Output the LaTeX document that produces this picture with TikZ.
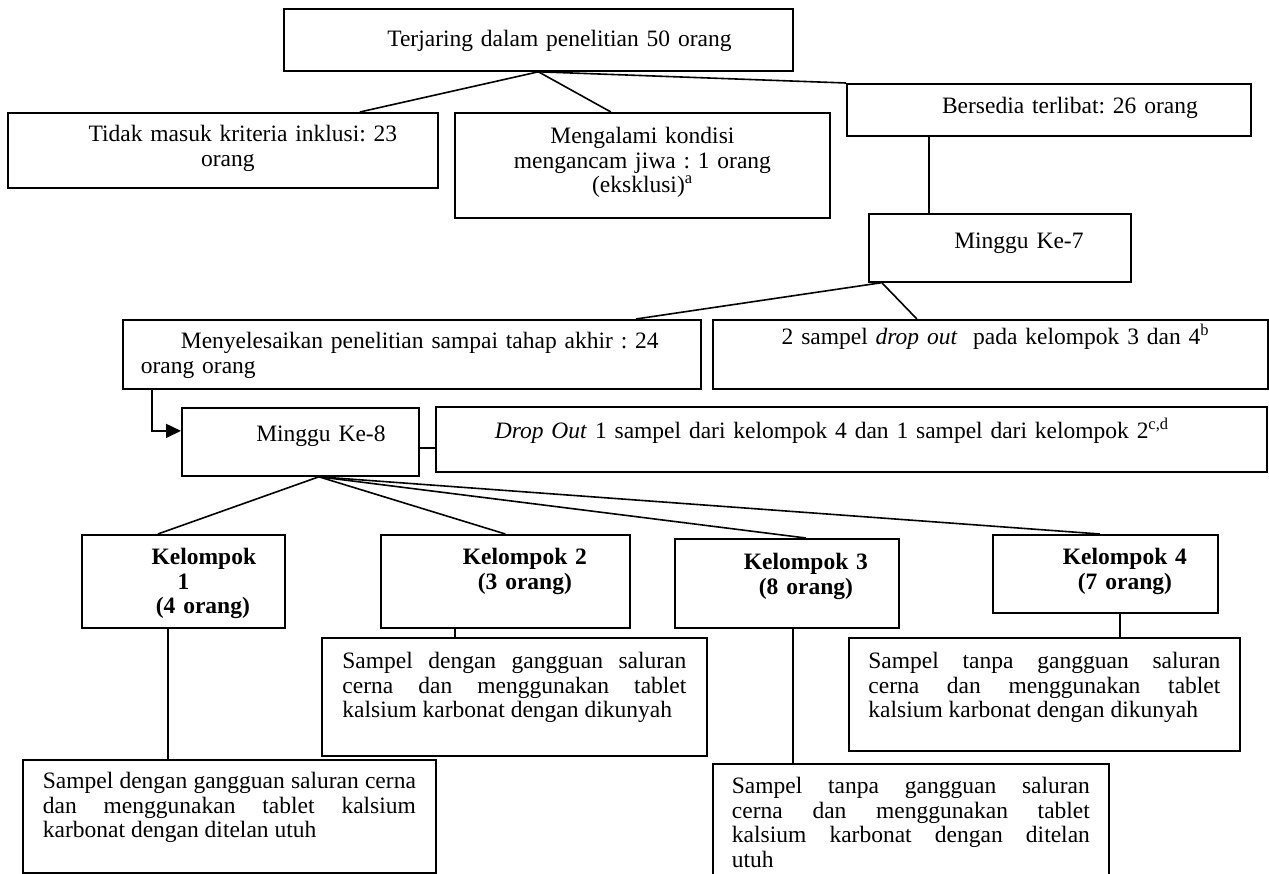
\documentclass[tikz,border=0pt]{standalone}
\usepackage{fontspec}
\setmainfont{Liberation Serif}
\usetikzlibrary{arrows.meta}
\tolerance=9999
\hbadness=10000
\frenchspacing

\begin{document}
\begin{tikzpicture}[x=1pt, y=-1pt, line width=1.6pt,
    box/.style = {draw, line width=1.8pt, inner sep=0pt, anchor=north west, align=center,
                  font=\fontsize{23.5}{24.5}\selectfont},
    grp/.style = {box, font=\fontsize{23.5}{24.5}\selectfont\bfseries},
    sample/.style = {box, align=justify}]
    \useasboundingbox (0,0) rectangle (1269,874);
    \clip (0,0) rectangle (1269,874);

    \node[box, text width=509pt, text height=38pt, text depth=24pt] (top) at (283,8) {\hspace*{42pt}Terjaring dalam penelitian 50 orang};
    \node[box, text width=430pt, text height=29pt, text depth=46pt] (tidak) at (7,112) {\hspace*{40pt}Tidak masuk kriteria inklusi: 23\\\hspace*{10pt}orang};
    \node[box, text width=375pt, text height=31pt, text depth=74pt] (meng) at (454,112) {Mengalami kondisi\\mengancam jiwa : 1 orang\\(eksklusi)\textsuperscript{a}};
    \node[box, text width=404pt, text height=30pt, text depth=22pt] (bers) at (846,83) {\hspace*{42pt}Bersedia terlibat: 26 orang};
    \node[box, text width=262pt, text height=35pt, text depth=33pt] (m7) at (868,213) {\hspace*{38pt}Minggu Ke-7};
    \node[box, align=left, text width=542pt, inner xsep=18pt, text height=29pt, text depth=40pt] (sel) at (122,319) {\hspace*{40pt}Menyelesaikan penelitian sampai tahap akhir : 24\\orang orang};
    \node[box, text width=555pt, text height=25pt, text depth=44pt] (drop7) at (712,319) {\hspace*{10pt}2 sampel \textit{drop out}\ \ pada kelompok 3 dan 4\textsuperscript{b}};
    \node[box, text width=237pt, text height=34pt, text depth=34pt] (m8) at (181,407) {\hspace*{41pt}Minggu Ke-8};
    \node[box, align=left, text width=831pt, text height=32pt, text depth=33pt] (dout) at (435,406) {\hspace*{59pt}\textit{Drop Out} 1 sampel dari kelompok 4 dan 1 sampel dari kelompok 2\textsuperscript{c,d}};

    \node[grp, text width=203pt, text height=30pt, text depth=63pt] (k1) at (81,534) {\hspace*{41pt}Kelompok\\1\\\hspace*{39pt}(4 orang)};
    \node[grp, text width=249pt, text height=30pt, text depth=63pt] (k2) at (380,534) {\hspace*{39pt}Kelompok 2\\\hspace*{39pt}(3 orang)};
    \node[grp, text width=224pt, text height=31pt, text depth=58pt] (k3) at (674,538) {\hspace*{38pt}Kelompok 3\\\hspace*{38pt}(8 orang)};
    \node[grp, text width=225pt, text height=30pt, text depth=48pt] (k4) at (992,534) {\hspace*{39pt}Kelompok 4\\\hspace*{39pt}(7 orang)};

    \node[sample, text width=373pt, inner xsep=20pt, text height=29pt, text depth=84pt] (s1) at (22,759) {Sampel dengan gangguan saluran cerna\linebreak dan menggunakan tablet kalsium\linebreak karbonat dengan ditelan utuh};
    \node[sample, text width=344pt, inner xsep=20.5pt, text height=31pt, text depth=87pt] (s2) at (321,637) {Sampel dengan gangguan saluran\linebreak cerna dan menggunakan tablet\linebreak kalsium karbonat dengan dikunyah};
    \node[sample, text width=358pt, inner xsep=19pt, text height=30pt, text depth=116pt] (s3) at (712,763) {Sampel tanpa gangguan saluran\linebreak cerna dan menggunakan tablet\linebreak kalsium karbonat dengan ditelan\linebreak utuh};
    \node[sample, text width=352pt, inner xsep=19.5pt, text height=31pt, text depth=82pt] (s4) at (848,637) {Sampel tanpa gangguan saluran\linebreak cerna dan menggunakan tablet\linebreak kalsium karbonat dengan dikunyah};

    \draw (top.south) -- ([xshift=137pt]tidak.north);
    \draw (top.south) -- ([xshift=-31.5pt]meng.north);
    \draw (top.south) -- (bers.north west);
    \draw ([xshift=-120pt]bers.south) -- ([xshift=-120pt]bers.south |- m7.north);
    \draw ([xshift=-119pt]m7.south) -- ([xshift=224pt]sel.north);
    \draw ([xshift=-118pt]m7.south) -- ([xshift=-73.5pt]drop7.north);
    \draw[-{Triangle[length=15pt,width=14pt]}] ([xshift=30pt]sel.south west) |- ([yshift=11pt]m8.west);
    \draw ([yshift=-6pt]m8.east) -- ([yshift=-8.5pt]dout.west);
    \foreach \k/\dx in {k1/-25.5, k2/0, k3/19, k4/-5.5}
        \draw ([xshift=18.5pt]m8.south) -- ([xshift=\dx pt]\k.north);
    \foreach \k/\s/\dx in {k1/s1/-15.5, k2/s2/-50.5, k3/s3/6, k4/s4/14.5}
        \draw ([xshift=\dx pt]\k.south) -- ([xshift=\dx pt]\k.south |- \s.north);
\end{tikzpicture}
\end{document}
